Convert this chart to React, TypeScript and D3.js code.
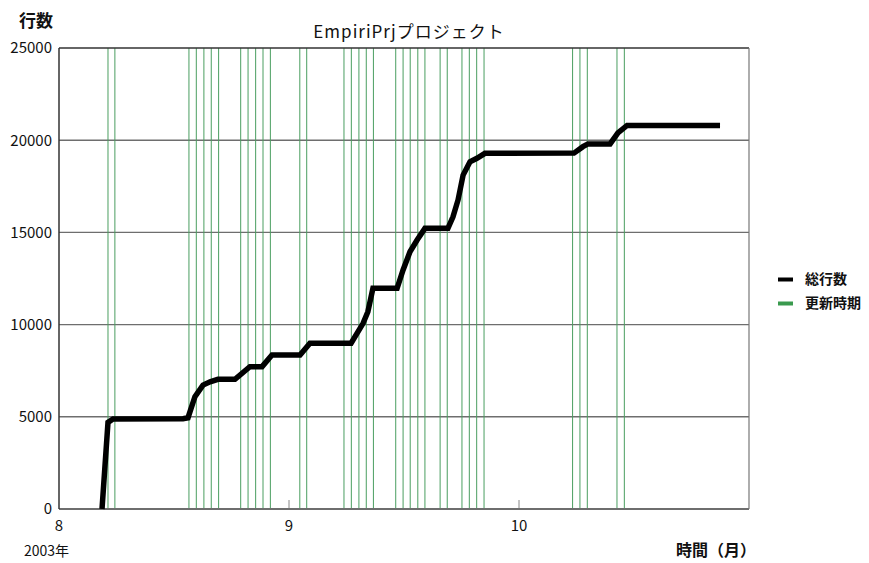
import React from "react";
import * as d3 from "d3";

const lineMonths = [8.187, 8.213, 8.235, 8.539, 8.561, 8.591, 8.626, 8.657, 8.691, 8.765, 8.83, 8.883, 8.926, 9.048, 9.091, 9.27, 9.322, 9.343, 9.365, 9.47, 9.496, 9.526, 9.557, 9.591, 9.691, 9.713, 9.735, 9.757, 9.787, 9.817, 9.852, 10.239, 10.278, 10.3, 10.396, 10.43, 10.47, 10.874];
const lineValues = [0, 4700, 4880, 4900, 4950, 6090, 6720, 6900, 7030, 7030, 7720, 7720, 8350, 8350, 8990, 8990, 10070, 10700, 11970, 11970, 12960, 13950, 14590, 15220, 15220, 15850, 16760, 18110, 18830, 19020, 19290, 19300, 19650, 19800, 19800, 20400, 20800, 20800];
const updateMonths = [8.213, 8.243, 8.565, 8.597, 8.63, 8.662, 8.694, 8.79, 8.822, 8.855, 8.887, 8.919, 9.047, 9.077, 9.239, 9.271, 9.304, 9.336, 9.367, 9.464, 9.496, 9.527, 9.56, 9.591, 9.657, 9.688, 9.752, 9.784, 9.816, 9.848, 10.233, 10.265, 10.297, 10.426, 10.458];
const yTicks = [0, 5000, 10000, 15000, 20000, 25000];
const xTicks = [8, 9, 10];

const W = 869, H = 563;
const left = 59, right = 749, top = 48, bottom = 509;
const font = "'Noto Sans CJK JP', 'Noto Sans', sans-serif";

export default function App() {
  const x = d3.scaleLinear().domain([8, 11]).range([left, right]);
  const y = d3.scaleLinear().domain([0, 25000]).range([bottom, top]);
  const pts: [number, number][] = lineMonths.map((m, i) => [m, lineValues[i]]);
  const line = d3.line<[number, number]>().x(d => x(d[0])).y(d => y(d[1]));
  return (
    <svg width={W} height={H} style={{ position: "absolute", left: 0, top: 0, background: "#fff" }} fontFamily={font}>
      <rect x={0} y={0} width={W} height={H} fill="#fff" />
      {yTicks.slice(1, -1).map(t => (
        <line key={t} x1={left} x2={right} y1={y(t)} y2={y(t)} stroke="#6e6e6e" strokeWidth={1.4} />
      ))}
      {updateMonths.map((m, i) => (
        <line key={i} x1={x(m)} x2={x(m)} y1={top} y2={bottom} stroke="#4a9e60" strokeWidth={1} />
      ))}
      {xTicks.slice(1).map(t => (
        <line key={t} x1={x(t)} x2={x(t)} y1={bottom - 9} y2={bottom} stroke="#888" strokeWidth={1} />
      ))}
      <line x1={left} x2={right} y1={top} y2={top} stroke="#333" strokeWidth={1.5} />
      <line x1={left} x2={right} y1={bottom} y2={bottom} stroke="#6e6e6e" strokeWidth={2} />
      <line x1={left} x2={left} y1={top} y2={bottom} stroke="#333" strokeWidth={1.5} />
      <line x1={right} x2={right} y1={top} y2={bottom} stroke="#777" strokeWidth={1.2} />
      <path d={line(pts) || ""} fill="none" stroke="#000" strokeWidth={5.5} strokeLinejoin="miter" />
      {yTicks.map(t => (
        <text key={t} x={52} y={y(t)} dy="0.36em" textAnchor="end" fontSize={15} fill="#111">{t}</text>
      ))}
      {xTicks.map(t => (
        <text key={t} x={x(t)} y={531} textAnchor="middle" fontSize={15} fill="#111">{t}</text>
      ))}
      <text x={19} y={27} fontSize={17} fontWeight="bold" fill="#111">行数</text>
      <text x={409} y={38} textAnchor="middle" fontSize={17} letterSpacing={1} fill="#111">EmpiriPrjプロジェクト</text>
      <text x={24} y={556} fontSize={14} fill="#111">2003年</text>
      <text x={676} y={556} fontSize={16} fontWeight="bold" fill="#111">時間（月）</text>
      <line x1={778} x2={793} y1={279.5} y2={279.5} stroke="#000" strokeWidth={4} />
      <text x={805} y={279.5} dy="0.35em" fontSize={14} fontWeight="bold" fill="#111">総行数</text>
      <line x1={778} x2={793} y1={303.5} y2={303.5} stroke="#3a9a4e" strokeWidth={4} />
      <text x={805} y={303.5} dy="0.35em" fontSize={14} fontWeight="bold" fill="#111">更新時期</text>
    </svg>
  );
}
